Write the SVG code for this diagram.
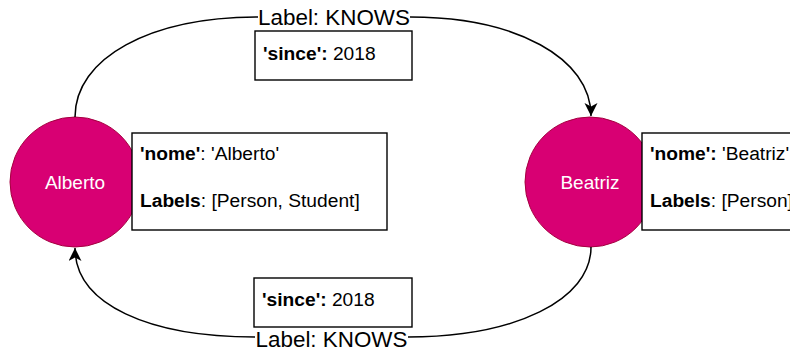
<svg xmlns="http://www.w3.org/2000/svg" width="790" height="351" viewBox="0 0 790 351">
<style>
  .node { fill: #d80073; stroke: #a50040; stroke-width: 1; }
  .ntext { fill: #ffffff; font-family: "Liberation Sans", Arial, sans-serif; font-size: 19px; text-anchor: middle; }
  .box { fill: #ffffff; stroke: #000000; stroke-width: 1.4; }
  .btext { fill: #000000; font-family: "Liberation Sans", Arial, sans-serif; font-size: 19.2px; }
  .b { font-weight: bold; }
  .edge { fill: none; stroke: #000000; stroke-width: 1.5; }
  .elabel { fill: #000000; font-family: "Liberation Sans", Arial, sans-serif; font-size: 22.4px; text-anchor: middle; }
</style>
<defs>
  <marker id="arrow" markerUnits="userSpaceOnUse" markerWidth="16" markerHeight="16" refX="13" refY="6.5" orient="auto">
    <path d="M0,0 L13,6.5 L0,13 L3.5,6.5 Z" fill="#000000"/>
  </marker>
</defs>
<g id="node-alberto">
  <circle class="node" cx="75" cy="182" r="65"/>
  <text class="ntext" x="75" y="188.5">Alberto</text>
</g>
<g id="node-beatriz">
  <circle class="node" cx="590" cy="182" r="65"/>
  <text class="ntext" x="590" y="188.5">Beatriz</text>
</g>
<g id="props-alberto">
  <rect class="box" x="132" y="133" width="255" height="97"/>
  <text class="btext" x="140" y="160"><tspan class="b">'nome'</tspan>: 'Alberto'</text>
  <text class="btext" x="140" y="207"><tspan class="b">Labels</tspan>: [Person, Student]</text>
</g>
<g id="props-beatriz">
  <rect class="box" x="642" y="133" width="255" height="97"/>
  <text class="btext" x="650" y="160"><tspan class="b">'nome':</tspan> 'Beatriz'</text>
  <text class="btext" x="650" y="207"><tspan class="b">Labels</tspan>: [Person]</text>
</g>
<g id="props-edge-top">
  <rect class="box" x="255" y="31" width="157" height="49"/>
  <text class="btext" x="263" y="60"><tspan class="b">'since':</tspan> 2018</text>
</g>
<g id="props-edge-bottom">
  <rect class="box" x="254" y="278" width="158" height="49"/>
  <text class="btext" x="262" y="306"><tspan class="b">'since':</tspan> 2018</text>
</g>
<g id="connectors">
  <path class="edge" marker-end="url(#arrow)" d="M75,117 C75,58 150,17 258,17 M410,17 C516,17 591,58 591,116"/>
  <text class="elabel" x="334" y="24.5">Label: KNOWS</text>
  <path class="edge" marker-end="url(#arrow)" d="M591,247 C591,300 515,337 408,337 M255,337 C150,337 75,305 75,248"/>
  <text class="elabel" x="331.5" y="346.5">Label: KNOWS</text>
</g>
</svg>
